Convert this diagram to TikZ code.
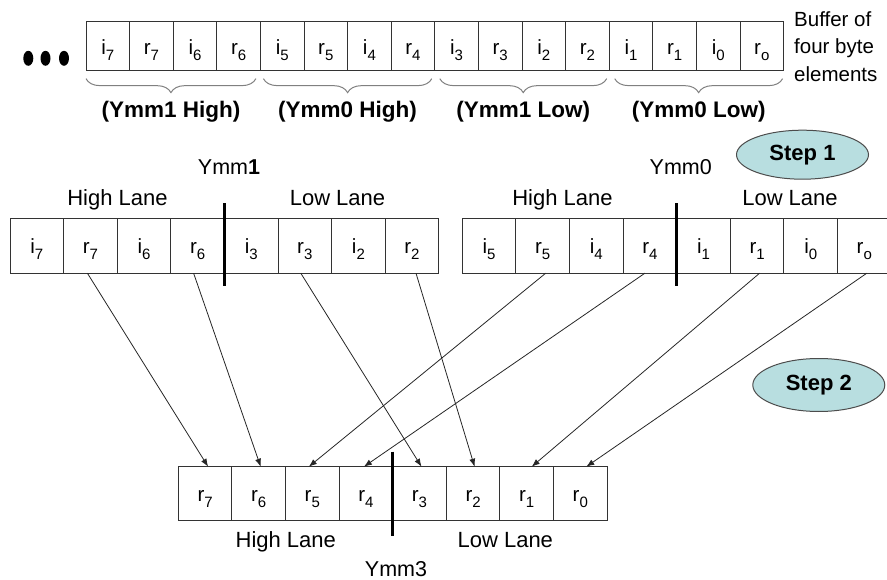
\documentclass[tikz,border=0pt]{standalone}
\usepackage{fontspec}
\setmainfont{Liberation Sans}
\usetikzlibrary{arrows.meta,positioning,shapes.geometric,decorations.pathreplacing}
\definecolor{stepfill}{RGB}{184,222,224}
\newcommand{\elem}[2]{#1\raisebox{-6pt}{\fontsize{15}{15}\selectfont #2}}
\tikzset{
      bufcell/.style={
        draw=black!80,
        line width=0.9pt,
        minimum width=43.6pt,
        minimum height=48.7pt,
        inner sep=0pt,
        outer sep=0pt,
        text height=16pt,
        text depth=0pt,
        font=\fontsize{20.5}{24}\selectfont
      },
      regcell/.style={bufcell, minimum width=53.6pt, minimum height=55pt},
      lanebar/.style={line width=3.5pt, black},
      groupbrace/.style={
        decorate,
        decoration={brace, mirror, amplitude=14pt},
        draw=black!50,
        line width=1pt
      },
      bracelabel/.style={midway, anchor=base, yshift=-39pt, inner sep=0pt,
        font=\bfseries\fontsize{22.5}{26}\selectfont},
      lanelabel/.style={anchor=base, inner sep=0pt, font=\fontsize{22}{26}\selectfont},
      ymmlabel/.style={anchor=base, inner sep=0pt, font=\fontsize{21.5}{26}\selectfont},
      stepbubble/.style={
        ellipse,
        draw=black!70,
        line width=1pt,
        fill=stepfill,
        minimum width=132pt,
        minimum height=49pt,
        inner sep=0pt,
        font=\bfseries\fontsize{22}{26}\selectfont
      },
      moveline/.style={-{Latex[length=8pt,width=6pt]}, line width=0.8pt, black!85}
    }
\begin{document}
\begin{tikzpicture}[x=1pt,y=-1pt]
    \useasboundingbox (0,0) rectangle (887,580);
    % buffer in memory
    \fill (28.3,58.3) ellipse [x radius=5pt, y radius=7.5pt];
    \fill (45.5,58.3) ellipse [x radius=5pt, y radius=7.5pt];
    \fill (64,58.3) ellipse [x radius=5pt, y radius=7.5pt];
    \node[bufcell, anchor=west] (t1) at (86,46.3) {\elem{i}{7}};
    \node[bufcell, right=0pt of t1] (t2) {\elem{r}{7}};
    \node[bufcell, right=0pt of t2] (t3) {\elem{i}{6}};
    \node[bufcell, right=0pt of t3] (t4) {\elem{r}{6}};
    \node[bufcell, right=0pt of t4] (t5) {\elem{i}{5}};
    \node[bufcell, right=0pt of t5] (t6) {\elem{r}{5}};
    \node[bufcell, right=0pt of t6] (t7) {\elem{i}{4}};
    \node[bufcell, right=0pt of t7] (t8) {\elem{r}{4}};
    \node[bufcell, right=0pt of t8] (t9) {\elem{i}{3}};
    \node[bufcell, right=0pt of t9] (t10) {\elem{r}{3}};
    \node[bufcell, right=0pt of t10] (t11) {\elem{i}{2}};
    \node[bufcell, right=0pt of t11] (t12) {\elem{r}{2}};
    \node[bufcell, right=0pt of t12] (t13) {\elem{i}{1}};
    \node[bufcell, right=0pt of t13] (t14) {\elem{r}{1}};
    \node[bufcell, right=0pt of t14] (t15) {\elem{i}{0}};
    \node[bufcell, right=0pt of t15] (t16) {\elem{r}{o}};
    \node[anchor=north west, align=left, inner sep=0pt, font=\fontsize{20.5}{27.5}\selectfont] (bufnote) at (794,11) {Buffer of\\four byte\\elements};
    \draw[groupbrace] ([yshift=-8pt]t1.south west) -- ([xshift=-4.5pt,yshift=-8pt]t4.south east) node[bracelabel] (g1) {(Ymm1 High)};
    \draw[groupbrace] ([xshift=3pt,yshift=-8pt]t5.south west) -- ([xshift=-3pt,yshift=-8pt]t8.south east) node[bracelabel] (g2) {(Ymm0 High)};
    \draw[groupbrace] ([xshift=5pt,yshift=-8pt]t9.south west) -- ([xshift=-2.5pt,yshift=-8pt]t12.south east) node[bracelabel] (g3) {(Ymm1 Low)};
    \draw[groupbrace] ([xshift=5.5pt,yshift=-8pt]t13.south west) -- ([xshift=-1pt,yshift=-8pt]t16.south east) node[bracelabel] (g4) {(Ymm0 Low)};
    \node[stepbubble] (step1) at (802.5,154.7) {Step 1};
    % Ymm1 and Ymm0 after loading
    \node[regcell, anchor=west] (a1) at (10,245.7) {\elem{i}{7}};
    \node[regcell, right=0pt of a1] (a2) {\elem{r}{7}};
    \node[regcell, right=0pt of a2] (a3) {\elem{i}{6}};
    \node[regcell, right=0pt of a3] (a4) {\elem{r}{6}};
    \node[regcell, right=0pt of a4] (a5) {\elem{i}{3}};
    \node[regcell, right=0pt of a5] (a6) {\elem{r}{3}};
    \node[regcell, right=0pt of a6] (a7) {\elem{i}{2}};
    \node[regcell, right=0pt of a7] (a8) {\elem{r}{2}};
    \node[regcell, anchor=west] (b1) at (462.3,245.7) {\elem{i}{5}};
    \node[regcell, right=0pt of b1] (b2) {\elem{r}{5}};
    \node[regcell, right=0pt of b2] (b3) {\elem{i}{4}};
    \node[regcell, right=0pt of b3] (b4) {\elem{r}{4}};
    \node[regcell, right=0pt of b4] (b5) {\elem{i}{1}};
    \node[regcell, right=0pt of b5] (b6) {\elem{r}{1}};
    \node[regcell, right=0pt of b6] (b7) {\elem{i}{0}};
    \node[regcell, right=0pt of b7] (b8) {\elem{r}{o}};
    \draw[lanebar] ([yshift=15pt]a4.north east) -- ([yshift=-13pt]a4.south east);
    \draw[lanebar] ([yshift=15pt]b4.north east) -- ([yshift=-13pt]b4.south east);
    \node[ymmlabel] (ymm1) at (229,175) {Ymm\textbf{1}};
    \node[ymmlabel] (ymm0) at (680.8,175) {Ymm0};
    \node[lanelabel] (hi1) at (117.5,206) {High Lane};
    \node[lanelabel] (lo1) at (337.5,206) {Low Lane};
    \node[lanelabel] (hi0) at (562.5,206) {High Lane};
    \node[lanelabel] (lo0) at (790,206) {Low Lane};
    % Ymm3 with the real parts
    \node[regcell, minimum height=54pt, anchor=west] (c1) at (178.3,493.7) {\elem{r}{7}};
    \node[regcell, minimum height=54pt, right=0pt of c1] (c2) {\elem{r}{6}};
    \node[regcell, minimum height=54pt, right=0pt of c2] (c3) {\elem{r}{5}};
    \node[regcell, minimum height=54pt, right=0pt of c3] (c4) {\elem{r}{4}};
    \node[regcell, minimum height=54pt, right=0pt of c4] (c5) {\elem{r}{3}};
    \node[regcell, minimum height=54pt, right=0pt of c5] (c6) {\elem{r}{2}};
    \node[regcell, minimum height=54pt, right=0pt of c6] (c7) {\elem{r}{1}};
    \node[regcell, minimum height=54pt, right=0pt of c7] (c8) {\elem{r}{0}};
    \draw[lanebar] ([yshift=15pt]c4.north east) -- ([yshift=-15.3pt]c4.south east);
    \node[lanelabel] (hi3) at (285.8,547.3) {High Lane};
    \node[lanelabel] (lo3) at (505.3,547.3) {Low Lane};
    \node[ymmlabel] (ymm3) at (396,576.7) {Ymm3};
    \node[stepbubble, minimum height=53pt] (step2) at (818.8,385) {Step 2};
    \draw[moveline] ([xshift=-3pt]a2.south) -- ([xshift=3pt]c1.north);
    \draw[moveline] ([xshift=-4pt]a4.south) -- ([xshift=2pt]c2.north);
    \draw[moveline] ([xshift=-4pt]a6.south) -- ([xshift=2pt]c5.north);
    \draw[moveline] ([xshift=4pt]a8.south) -- ([xshift=1.5pt]c6.north);
    \draw[moveline] ([xshift=3pt]b2.south) -- ([xshift=-3.5pt]c3.north);
    \draw[moveline] ([xshift=-5pt]b4.south) -- ([xshift=-2pt]c4.north);
    \draw[moveline] ([xshift=2.5pt]b6.south) -- ([xshift=5pt]c7.north);
    \draw[moveline] ([xshift=2.5pt]b8.south) -- ([xshift=6pt]c8.north);
    \end{tikzpicture}
\end{document}
